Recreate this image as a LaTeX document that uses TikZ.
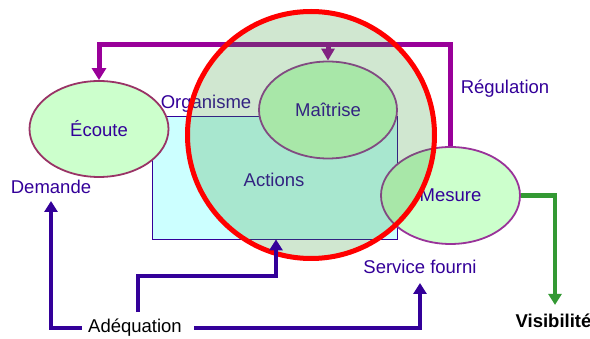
\documentclass[tikz,border=0pt]{standalone}
\usepackage{fontspec}
\setmainfont{Liberation Sans}
\usetikzlibrary{arrows.meta,shapes.geometric,calc}
\definecolor{ink}{HTML}{330099}
\definecolor{regcol}{HTML}{990099}
\definecolor{okgreen}{HTML}{339933}
\definecolor{pale}{HTML}{CCFFCC}
\definecolor{paleCyan}{HTML}{CCFFFF}
\definecolor{rimA}{HTML}{993366}
\definecolor{rimB}{HTML}{993399}
\begin{document}
\begin{tikzpicture}[x=1pt,y=-1pt,
  every node/.style={font=\fontsize{18.5}{20}\selectfont},
  lbl/.style={text=ink,inner sep=2pt},
  bubble/.style={ellipse,fill=pale,line width=1.8pt,inner sep=0pt,text=ink},
  orgbox/.style={rectangle,draw=ink,fill=paleCyan,line width=0.8pt,inner sep=0pt},
  feedback/.style={draw=regcol,line width=5pt,-{Triangle[width=14pt,length=12pt]}},
  flow/.style={draw=ink,line width=4.5pt,-{Triangle[width=13pt,length=11pt]}},
  outflow/.style={draw=okgreen,line width=4.5pt,-{Triangle[width=13pt,length=11pt]}},
  focus/.style={circle,draw=red,line width=5pt,fill=okgreen,fill opacity=0.23,
    minimum size=247pt,inner sep=0pt}]
\useasboundingbox (0,0) rectangle (590,339);

% organisation frame and its labels
\node[orgbox,minimum width=245pt,minimum height=123pt] (org) at (274.5,177.5) {};
\node[lbl] (orglbl) at (206,104) {Organisme};
\node[lbl] (actions) at (274,180) {Actions};

% process bubbles
\node[bubble,draw=rimA,minimum width=139pt,minimum height=96pt] (ecoute) at (99,129) {Écoute};
\node[bubble,draw=rimB,minimum width=138pt,minimum height=97pt] (maitrise) at (328,110) {Maîtrise};
\node[bubble,draw=rimB,minimum width=139pt,minimum height=97pt] (mesure) at (450.5,195.5) {Mesure};

% regulation loop
\coordinate (top) at (0,45);
\draw[feedback] (mesure.north) -- (mesure.north |- top) -- (ecoute.north |- top) -- (ecoute.north);
\draw[feedback,-{Triangle[width=13pt,length=12pt]}] (maitrise.north |- top) -- (maitrise.north);
\node[lbl] (regul) at (505,89) {Régulation};

% control circle
\node[focus] (ctrl) at (311,135) {};

% outer labels
\node[lbl] (demande) at (51,187) {Demande};
\node[lbl] (service) at (420,267) {Service fourni};
\node[inner sep=2pt,text=black] (adeq) at (135,328) {Adéquation};
\node[inner sep=2pt,text=black,font=\fontsize{18.5}{20}\selectfont\bfseries] (visib) at (553.5,321) {Visibilité};

% adequacy arrows
\draw[flow] ([xshift=-4pt]adeq.west) -| ([yshift=-5pt]demande.south);
\draw[flow] ([xshift=10pt]adeq.east) -| ([yshift=-7pt]service.south);
\draw[flow] ([xshift=3pt,yshift=5pt]adeq.north) -- ++(0,-36) -| ([xshift=1.5pt]org.south);

% visibility output
\draw[outflow] (mesure.east) -| ([xshift=1.5pt,yshift=7pt]visib.north);
\end{tikzpicture}
\end{document}
